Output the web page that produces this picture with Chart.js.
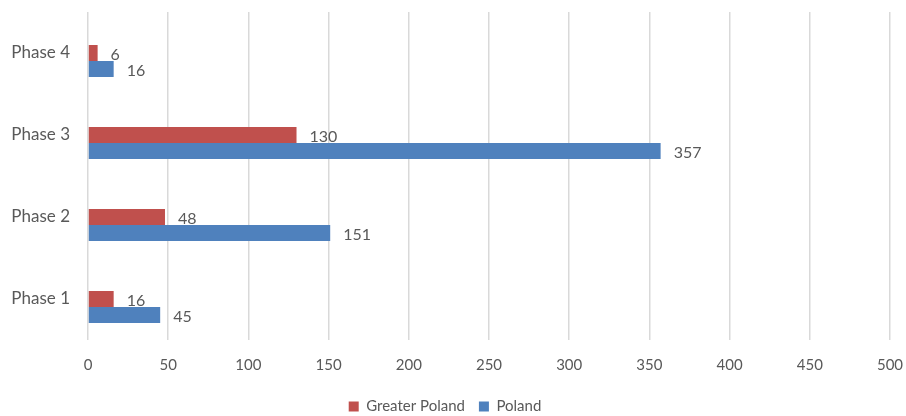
<!DOCTYPE html>
<html>
<head>
<meta charset="utf-8">
<script src="https://cdn.jsdelivr.net/npm/chart.js@4/dist/chart.umd.min.js"></script>
<style>
  html, body { margin: 0; padding: 0; background: #fff; }
  #wrap { width: 906px; height: 416px; }
</style>
</head>
<body>
<div id="wrap"><canvas id="phases"></canvas></div>
<script>
const phases = ["Phase 4", "Phase 3", "Phase 2", "Phase 1"]
const greaterPoland = [6, 130, 48, 16]
const poland = [16, 357, 151, 45]
const xTicks = [0, 50, 100, 150, 200, 250, 300, 350, 400, 450, 500]

const textGray = '#595959'
const font = 'Lato, "Open Sans", sans-serif'

// writes each bar's value just past its end
const valueLabels = {
  id: 'valueLabels',
  afterDatasetsDraw(chart) {
    const ctx = chart.ctx
    ctx.save()
    ctx.font = '16px ' + font
    ctx.fillStyle = textGray
    ctx.textAlign = 'left'
    ctx.textBaseline = 'middle'
    chart.data.datasets.forEach((ds, i) => {
      if (ds.spacer) return
      chart.getDatasetMeta(i).data.forEach((bar, j) => {
        ctx.fillText(ds.data[j], bar.x + 13, bar.y + 2)
      })
    })
    ctx.restore()
  }
}

new Chart(document.getElementById('phases'), {
  type: 'bar',
  data: {
    labels: phases,
    datasets: [
      // empty slot above the two series, keeps each group's position
      { label: '', data: phases.map(() => null), spacer: true },
      { label: 'Greater Poland', data: greaterPoland, backgroundColor: '#c0504d' },
      { label: 'Poland', data: poland, backgroundColor: '#4f81bd' }
    ]
  },
  options: {
    indexAxis: 'y',
    responsive: true,
    maintainAspectRatio: false,
    animation: false,
    categoryPercentage: 0.585,
    barPercentage: 1.0,
    layout: { padding: { top: 12, right: 16, bottom: -8, left: 0 } },
    scales: {
      x: {
        min: 0,
        max: 500,
        afterBuildTicks(scale) { scale.ticks = xTicks.map(v => ({ value: v })) },
        afterFit(scale) {
          scale.height = 45
          scale.paddingLeft = 0
          scale.paddingRight = 0
        },
        grid: { color: '#d9d9d9', lineWidth: 1.5, drawTicks: false },
        border: { display: false },
        ticks: { color: textGray, font: { family: font, size: 15 }, padding: 16 }
      },
      y: {
        afterFit(scale) {
          scale.width = 88
          scale.paddingTop = 0
          scale.paddingBottom = 0
        },
        grid: { display: false, drawTicks: false },
        border: { display: false },
        ticks: { color: textGray, font: { family: font, size: 17 }, padding: 18 }
      }
    },
    plugins: {
      legend: {
        position: 'bottom',
        labels: {
          filter: item => item.text !== '',
          boxWidth: 10,
          boxHeight: 10,
          padding: 14,
          color: textGray,
          font: { family: font, size: 15 }
        }
      },
      tooltip: { enabled: false }
    }
  },
  plugins: [valueLabels]
})
</script>
</body>
</html>
